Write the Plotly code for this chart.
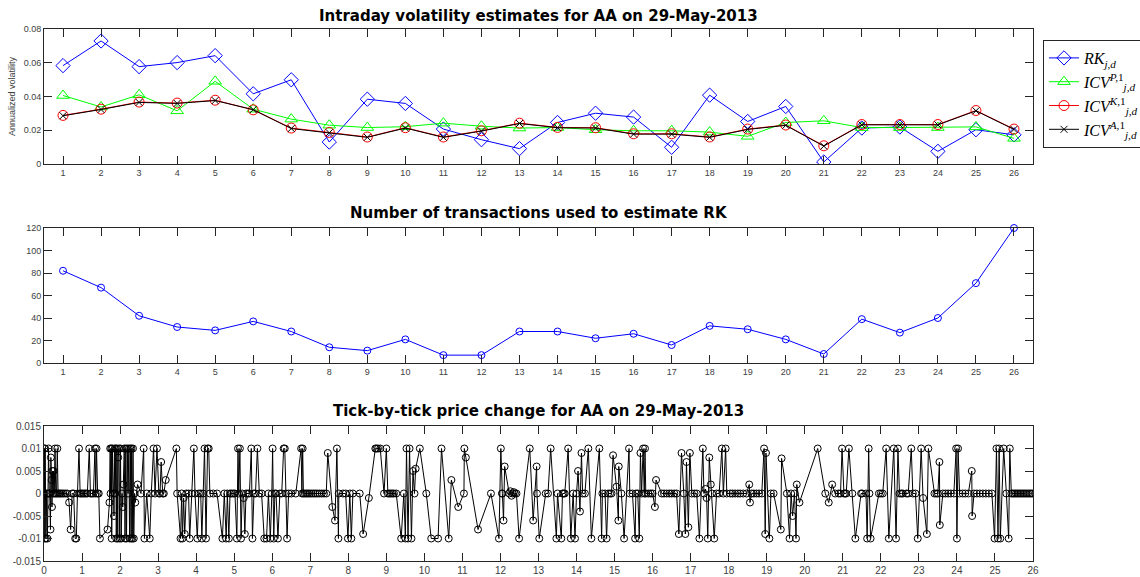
import plotly.graph_objects as go

# ---------------- data ----------------
intervals = list(range(1, 27))

rk = [0.0583, 0.0729, 0.0577, 0.0601, 0.0642, 0.0416, 0.0499, 0.0130, 0.0384, 0.0359,
      0.0207, 0.0144, 0.0091, 0.0246, 0.0301, 0.0278, 0.0099, 0.0408, 0.0252, 0.0341,
      0.0012, 0.0213, 0.0219, 0.0075, 0.0203, 0.0173]
icv_p = [0.0406, 0.0338, 0.0410, 0.0315, 0.0490, 0.0325, 0.0266, 0.0230, 0.0216, 0.0221,
         0.0242, 0.0224, 0.0213, 0.0216, 0.0203, 0.0197, 0.0197, 0.0189, 0.0164, 0.0246,
         0.0256, 0.0216, 0.0216, 0.0216, 0.0220, 0.0152]
icv_k = [0.0288, 0.0325, 0.0367, 0.0361, 0.0378, 0.0321, 0.0213, 0.0187, 0.0160, 0.0215,
         0.0160, 0.0197, 0.0242, 0.0217, 0.0215, 0.0179, 0.0179, 0.0160, 0.0207, 0.0231,
         0.0108, 0.0234, 0.0234, 0.0234, 0.0317, 0.0207]
icv_a = [0.0286, 0.0323, 0.0365, 0.0359, 0.0376, 0.0322, 0.0210, 0.0185, 0.0158, 0.0213,
         0.0158, 0.0195, 0.0240, 0.0215, 0.0213, 0.0177, 0.0177, 0.0158, 0.0205, 0.0229,
         0.0106, 0.0232, 0.0232, 0.0232, 0.0315, 0.0205]

n_transactions = [82, 67, 42, 32, 29, 37, 28, 14, 11, 21, 7, 7, 28, 28, 22, 26, 16, 33, 30, 21,
                  8, 39, 27, 40, 71, 120]

tick_times = [
    # hour 0
    0.00, 0.01, 0.02, 0.03, 0.05, 0.07, 0.09, 0.10, 0.12, 0.14, 0.15, 0.17, 0.18, 0.20, 0.21, 0.22,
    0.24, 0.25, 0.27, 0.29, 0.31, 0.33, 0.35, 0.37, 0.40, 0.43, 0.47, 0.51, 0.56, 0.61, 0.66, 0.70,
    0.74, 0.78, 0.82, 0.85, 0.88, 0.92, 0.95, 0.98,
    # hour 1
    1.02, 1.06, 1.10, 1.14, 1.19, 1.22, 1.26, 1.30, 1.34, 1.36, 1.38, 1.41, 1.44, 1.47, 1.67, 1.72,
    1.74, 1.75, 1.77, 1.78, 1.80, 1.82, 1.84, 1.86, 1.87, 1.89, 1.90, 1.92, 1.94, 1.95, 1.97, 1.99,
    # hour 2
    2.01, 2.03, 2.05, 2.07, 2.09, 2.11, 2.13, 2.15, 2.17, 2.19, 2.21, 2.23, 2.25, 2.27, 2.29, 2.30,
    2.32, 2.34, 2.36, 2.38, 2.40, 2.46, 2.55, 2.62, 2.64, 2.70, 2.78, 2.82, 2.88, 2.92, 2.97,
    # hour 3
    3.02, 3.05, 3.08, 3.12, 3.15, 3.20, 3.48, 3.50, 3.59, 3.62, 3.64, 3.67, 3.70, 3.74, 3.80, 3.83,
    3.88, 3.94, 3.97,
    # hour 4
    4.03, 4.07, 4.12, 4.15, 4.18, 4.22, 4.26, 4.30, 4.33, 4.36, 4.45, 4.55, 4.69, 4.74, 4.79, 4.82,
    4.86, 4.89, 4.93, 4.98,
    # hour 5
    5.02, 5.07, 5.10, 5.12, 5.15, 5.18, 5.21, 5.25, 5.28, 5.31, 5.36, 5.40, 5.45, 5.48, 5.52, 5.56,
    5.61, 5.66, 5.72, 5.79, 5.85, 5.90, 5.95, 5.99,
    # hour 6
    6.01, 6.04, 6.07, 6.10, 6.15, 6.20, 6.25, 6.30, 6.33, 6.36, 6.39, 6.43, 6.50, 6.62, 6.76, 6.78,
    6.80, 6.82, 6.86, 6.90, 6.94, 6.98,
    # hour 7
    7.03, 7.08, 7.13, 7.18, 7.24, 7.30, 7.36, 7.42, 7.46, 7.58, 7.65, 7.70, 7.74, 7.75, 7.86, 7.93,
    7.99,
    # hour 8
    8.04, 8.08, 8.12, 8.30, 8.39, 8.54, 8.71, 8.74, 8.78, 8.84, 8.94,
    # hour 9
    9.00, 9.04, 9.08, 9.12, 9.16, 9.20, 9.26, 9.39, 9.46, 9.50, 9.53, 9.57, 9.61, 9.66, 9.70, 9.74,
    9.77, 9.88,
    # hour 10
    10.05, 10.18, 10.36, 10.45, 10.64, 10.71, 10.89,
    # hour 11
    11.04, 11.05, 11.09, 11.41, 11.75, 11.96,
    # hour 12
    12.01, 12.04, 12.05, 12.08, 12.11, 12.23, 12.26, 12.29, 12.32, 12.35, 12.38, 12.42, 12.49, 12.77,
    12.86, 12.95, 12.96,
    # hour 13
    13.02, 13.19, 13.25, 13.32, 13.47, 13.50, 13.60, 13.63, 13.66, 13.69, 13.78, 13.85, 13.91, 13.96,
    # hour 14
    14.00, 14.04, 14.09, 14.13, 14.16, 14.22, 14.31, 14.39, 14.60, 14.66, 14.68, 14.75, 14.79, 14.83,
    14.88, 14.92, 14.96,
    # hour 15
    15.05, 15.10, 15.11, 15.18, 15.25, 15.38, 15.40, 15.47, 15.54, 15.56, 15.61, 15.65, 15.68, 15.71,
    15.75, 15.78, 15.80, 15.82, 15.89, 15.95,
    # hour 16
    16.00, 16.06, 16.09, 16.24, 16.30, 16.37, 16.44, 16.50, 16.57, 16.63, 16.69, 16.76, 16.82, 16.86,
    16.89, 16.94, 16.98,
    # hour 17
    17.03, 17.10, 17.16, 17.23, 17.32, 17.35, 17.39, 17.42, 17.45, 17.49, 17.53, 17.56, 17.62, 17.68,
    17.75, 17.82, 17.86, 17.92, 17.95,
    # hour 18
    18.04, 18.10, 18.17, 18.24, 18.30, 18.38, 18.47, 18.54, 18.56, 18.60, 18.66, 18.73, 18.80, 18.87,
    18.93, 18.96, 18.98,
    # hour 19
    19.07, 19.11, 19.18, 19.37, 19.39, 19.53, 19.60, 19.64, 19.68, 19.73, 19.77, 19.79, 19.86,
    # hour 20
    20.34, 20.54, 20.63, 20.72, 20.80, 20.89, 20.94, 20.98,
    # hour 21
    21.03, 21.06, 21.09, 21.16, 21.25, 21.33, 21.48, 21.51, 21.61, 21.64, 21.68, 21.70, 21.73, 21.95,
    # hour 22
    22.00, 22.05, 22.14, 22.21, 22.34, 22.40, 22.45, 22.49, 22.54, 22.58, 22.67, 22.72, 22.80, 22.84,
    22.91, 22.97,
    # hour 23
    23.06, 23.11, 23.21, 23.25, 23.41, 23.46, 23.50, 23.54, 23.55, 23.63, 23.70, 23.77, 23.84, 23.92,
    23.98,
    # hour 24
    24.00, 24.03, 24.07, 24.15, 24.22, 24.30, 24.39, 24.40, 24.45, 24.52, 24.60, 24.68, 24.76, 24.84,
    24.92, 24.99,
    # hour 25
    25.04, 25.08, 25.11, 25.14, 25.23, 25.30, 25.36, 25.39, 25.43, 25.47, 25.51, 25.55, 25.59, 25.63,
    25.67, 25.71, 25.75, 25.79, 25.83, 25.87, 25.91, 25.95, 25.99,
]

tick_changes = [
    # hour 0
    0, 0.01, -0.01, 0.01, -0.01, 0, -0.01, 0, 0.01, 0, 0, -0.008, 0.008, 0.003, -0.003, 0.005,
    0, 0.005, 0, 0.01, 0, 0, 0.01, 0, 0, 0, 0, 0, 0, 0, -0.002, -0.008,
    0, 0, -0.01, -0.01, 0, 0.01, 0, 0,
    # hour 1
    0, 0, 0, 0, 0.01, 0, 0, 0, 0.01, 0, 0.01, 0, 0, -0.01, -0.008, -0.002,
    0.01, 0, 0.01, -0.01, 0.01, 0, -0.005, 0.01, 0, 0.01, -0.01, 0.01, -0.01, 0.008, 0.01, -0.01,
    # hour 2
    0.01, -0.01, 0, -0.003, 0.002, 0.01, -0.01, 0.01, -0.01, 0.01, 0, 0.01, -0.01, 0.01, -0.01, 0.01,
    -0.01, 0.01, -0.01, 0, -0.002, 0.002, 0, 0.01, -0.01, 0, -0.01, 0, 0.01, 0, 0.01,
    # hour 3
    0, 0, 0.007, 0, 0, 0.003, 0.01, 0, -0.01, 0, -0.01, -0.001, -0.009, 0, 0, -0.01,
    0, 0.01, 0,
    # hour 4
    -0.01, 0, 0, -0.01, 0, 0.01, -0.01, 0.01, 0.01, 0, 0, 0, -0.01, 0, -0.01, 0,
    -0.01, 0, 0, 0,
    # hour 5
    0, -0.01, 0.01, 0, 0.01, -0.01, 0, -0.001, -0.009, 0, 0, 0, 0.01, -0.01, 0, 0,
    0.01, 0, 0, -0.01, -0.01, 0, -0.01, 0,
    # hour 6
    0.01, -0.01, 0, 0, -0.01, 0, 0, 0.01, 0.01, 0, -0.01, 0, 0, 0, 0.01, 0,
    0.01, 0, 0, 0, 0, 0,
    # hour 7
    0, 0, 0, 0, 0, 0, 0, 0, 0.009, -0.003, -0.006, 0.01, -0.01, 0, 0, 0,
    -0.01,
    # hour 8
    0, -0.01, 0, 0, -0.009, -0.001, 0.01, 0.01, 0.01, 0.01, 0,
    # hour 9
    0.01, 0, 0, 0, 0, 0, 0, -0.01, 0, -0.01, 0.01, -0.01, 0.01, -0.01, 0.005, 0,
    0.0055, 0.01,
    # hour 10
    0, -0.01, -0.01, 0.01, -0.01, 0.003, -0.003,
    # hour 11
    0, 0.01, 0.008, -0.008, 0, -0.01,
    # hour 12
    0.01, 0, 0, -0.006, 0.006, 0, 0.0005, -0.0005, 0, 0.0003, 0, 0, -0.01, 0.01,
    -0.006, 0.006, 0,
    # hour 13
    -0.01, 0, 0, 0.01, -0.01, 0, -0.01, 0, 0, 0, 0.01, -0.01, 0, -0.01,
    # hour 14
    0, 0.005, -0.004, 0.009, 0, 0, 0.01, -0.01, 0.01, -0.01, 0, 0, -0.01, 0,
    0, 0, 0.0085,
    # hour 15
    0.0015, -0.006, 0.006, 0, -0.01, 0.01, 0, 0, -0.01, 0, 0, -0.01, 0.009, 0,
    0.01, 0, 0.01, 0, 0, 0,
    # hour 16
    0, -0.003, 0.003, 0, 0, 0, 0, 0, 0, 0, -0.009, 0.009, 0, -0.009,
    0.007, -0.0075, 0.009,
    # hour 17
    0, 0, 0, -0.01, 0.01, 0, 0.001, -0.001, -0.01, 0.008, 0.002, 0, -0.01, 0,
    0, 0.01, 0, 0.01, 0,
    # hour 18
    0, 0, 0, 0, 0, 0, 0, 0.002, -0.002, 0, 0, 0, 0, 0,
    0.01, -0.009, 0.009,
    # hour 19
    -0.01, 0, 0, -0.008, 0.0078, 0, -0.01, 0, -0.005, 0, -0.01, 0.002, -0.002,
    # hour 20
    0.01, 0, -0.002, 0.002, 0, 0, 0, 0.01,
    # hour 21
    0, 0, 0, 0.01, 0, -0.01, 0, 0, 0, -0.01, 0.01, 0, -0.01, 0,
    # hour 22
    0, 0, 0.01, -0.01, 0.01, -0.01, 0.01, 0, 0, 0, 0, 0, 0.01, 0,
    0, -0.01,
    # hour 23
    0.01, -0.001, -0.009, 0.01, 0, 0, 0, 0.007, -0.007, 0, 0, 0, 0, 0,
    0.01,
    # hour 24
    -0.01, 0.01, 0, 0, 0, 0, 0.005, -0.005, 0, 0, 0, 0, 0, 0,
    0, -0.01,
    # hour 25
    0.01, -0.01, 0.01, -0.01, 0.01, 0, -0.01, 0.01, 0, 0, 0, 0, 0, 0,
    0, 0, 0, 0, 0, 0, 0, 0, 0,
]
assert len(tick_times) == len(tick_changes), (len(tick_times), len(tick_changes))

top_yticks = [0, 0.02, 0.04, 0.06, 0.08]
top_yticklabels = ["0", "0.02", "0.04", "0.06", "0.08"]
mid_yticks = [0, 20, 40, 60, 80, 100, 120]
bot_yticks = [-0.015, -0.01, -0.005, 0, 0.005, 0.01, 0.015]
bot_yticklabels = ["-0.015", "-0.01", "-0.005", "0", "0.005", "0.01", "0.015"]
bot_xticks = list(range(0, 27))

# ---------------- layout geometry (pixels) ----------------
W, H = 1140, 577


def xdom(l, r):
    return [l / W, r / W]


def ydom(top, bottom):
    return [1 - bottom / H, 1 - top / H]


AX = "#262626"
SANS = "Liberation Sans, Arial, sans-serif"
tickfont = dict(family=SANS, size=9, color="#404040")
common = dict(showline=True, linecolor=AX, linewidth=1, mirror="ticks", ticks="inside",
              ticklen=8, tickcolor=AX, tickwidth=1, showgrid=False, zeroline=False,
              tickfont=tickfont, fixedrange=True)

fig = go.Figure()

fig.add_trace(go.Scatter(x=intervals, y=rk, mode="lines+markers", name="<i>RK</i><sub><i>j,d</i></sub>",
                         line=dict(color="#0000ff", width=1),
                         marker=dict(symbol="diamond-open", size=11, color="#0000ff", line=dict(width=1)),
                         xaxis="x", yaxis="y"))
fig.add_trace(go.Scatter(x=intervals, y=icv_p, mode="lines+markers",
                         name="<i>ICV</i><sup><i>P,</i>1</sup><sub><i>j,d</i></sub>",
                         line=dict(color="#00ff00", width=1),
                         marker=dict(symbol="triangle-up-open", size=11, color="#00ff00", line=dict(width=1)),
                         xaxis="x", yaxis="y"))
fig.add_trace(go.Scatter(x=intervals, y=icv_k, mode="lines+markers",
                         name="<i>ICV</i><sup><i>K,</i>1</sup><sub><i>j,d</i></sub>",
                         line=dict(color="#ff0000", width=1),
                         marker=dict(symbol="circle-open", size=10, color="#ff0000", line=dict(width=1)),
                         xaxis="x", yaxis="y"))
fig.add_trace(go.Scatter(x=intervals, y=icv_a, mode="lines+markers",
                         name="<i>ICV</i><sup><i>A,</i>1</sup><sub><i>j,d</i></sub>",
                         line=dict(color="#000000", width=1),
                         marker=dict(symbol="x-thin-open", size=7, color="#000000",
                                     line=dict(width=1, color="#000000")),
                         xaxis="x", yaxis="y"))

fig.add_trace(go.Scatter(x=intervals, y=n_transactions, mode="lines+markers", showlegend=False,
                         line=dict(color="#0000ff", width=1), cliponaxis=False,
                         marker=dict(symbol="circle-open", size=7, color="#0000ff", line=dict(width=1)),
                         xaxis="x2", yaxis="y2"))

fig.add_trace(go.Scatter(x=tick_times, y=tick_changes, mode="lines+markers", showlegend=False,
                         line=dict(color="#000000", width=1),
                         marker=dict(symbol="circle-open", size=7, color="#000000", line=dict(width=1)),
                         xaxis="x3", yaxis="y3"))

fig.update_layout(
    width=W, height=H, margin=dict(l=0, r=0, t=0, b=0, autoexpand=False),
    paper_bgcolor="white", plot_bgcolor="white",
    xaxis=dict(common, domain=xdom(44, 1033), range=[0.5, 26.5], tickvals=intervals, anchor="y"),
    yaxis=dict(common, domain=ydom(29, 164), range=[0, 0.08], tickvals=top_yticks,
               ticktext=top_yticklabels, anchor="x",
               title=dict(text="Annualized volatility", standoff=6,
                          font=dict(family=SANS, size=9, color="#404040"))),
    xaxis2=dict(common, domain=xdom(44, 1033), range=[0.5, 26.5], tickvals=intervals, anchor="y2"),
    yaxis2=dict(common, domain=ydom(228, 363), range=[0, 120], tickvals=mid_yticks, anchor="x2"),
    xaxis3=dict(common, domain=xdom(44, 1033), range=[0, 26], tickvals=bot_xticks, anchor="y3",
                tickfont=dict(family=SANS, size=10, color="#404040")),
    yaxis3=dict(common, domain=ydom(426, 561), range=[-0.015, 0.015], tickvals=bot_yticks,
                ticktext=bot_yticklabels, anchor="x3",
                tickfont=dict(family=SANS, size=10, color="#404040")),
    legend=dict(x=1043 / W, y=1 - 40 / H, xanchor="left", yanchor="top",
                bordercolor=AX, borderwidth=1, bgcolor="white",
                font=dict(family="Liberation Serif, Times New Roman, serif", size=16, color="#000000"),
                tracegroupgap=0, itemwidth=30),
    showlegend=True,
)

title_font = dict(family="DejaVu Sans, sans-serif", size=15, color="#000000")
for text, ypix in [("Intraday volatility estimates for AA on 29-May-2013", 16),
                   ("Number of transactions used to estimate RK", 213),
                   ("Tick-by-tick price change for AA on 29-May-2013", 411)]:
    fig.add_annotation(text="<b>" + text + "</b>", xref="paper", yref="paper",
                       x=(44 + 1033) / 2 / W, y=1 - ypix / H, xanchor="center", yanchor="middle",
                       showarrow=False, font=title_font)

fig.write_html("out.html")
